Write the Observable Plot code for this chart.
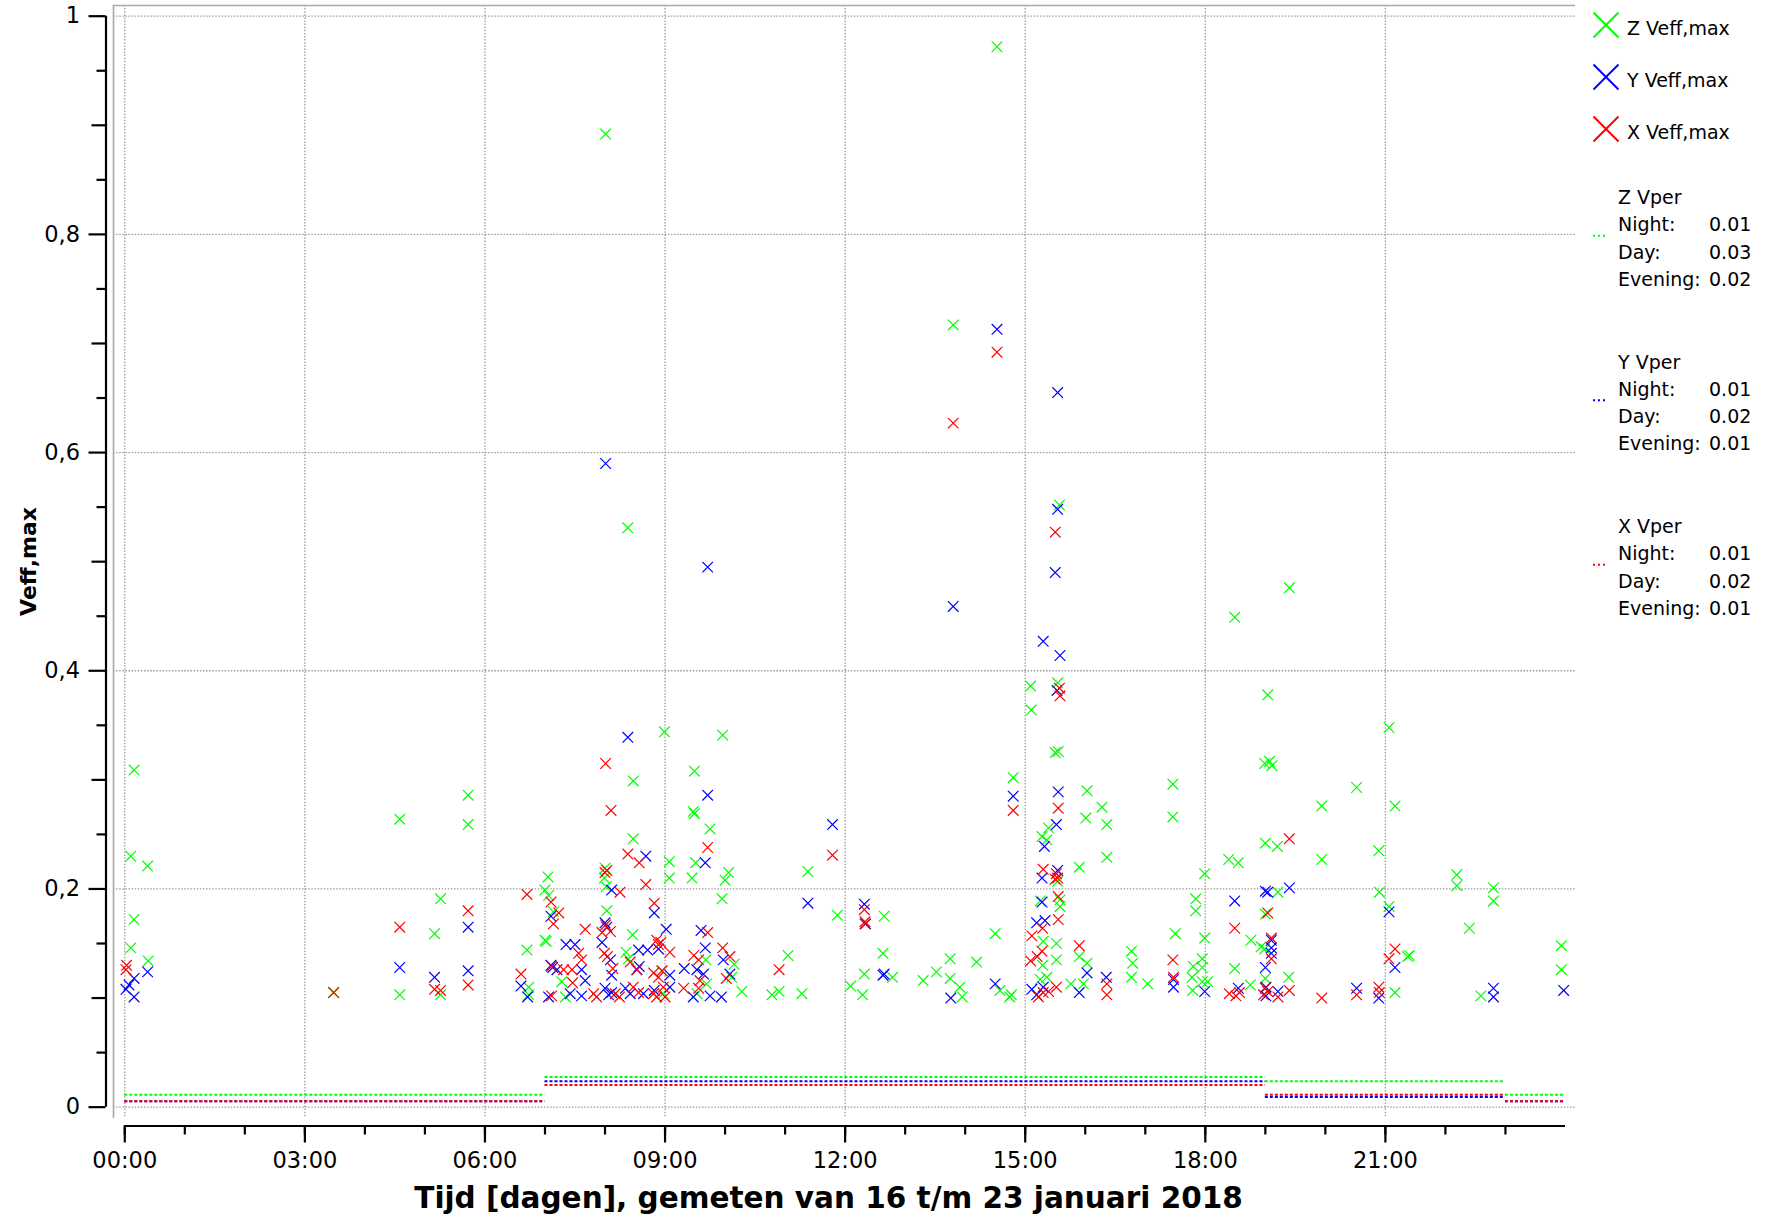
<!DOCTYPE html>
<html>
<head>
<meta charset="utf-8">
<script src="https://cdn.jsdelivr.net/npm/d3@7"></script>
<script src="https://cdn.jsdelivr.net/npm/@observablehq/plot@0.6"></script>
<style>
  html, body { margin: 0; padding: 0; background: #fff; }
  #chart { position: relative; width: 1767px; height: 1218px; font-family: "DejaVu Sans", sans-serif; }
  #legend { position: absolute; left: 1580px; top: 0; }
  #ytitle { position: absolute; left: 0; top: 0; }
</style>
</head>
<body>
<div id="chart"></div>
<script>
// Peak effective vibration velocity per direction, folded onto one day (hour of day, value)
const zPeaks = [
  [0.155,0.309],[0.10,0.230],[0.38,0.221],[0.155,0.172],[0.10,0.146],[0.39,0.134],
  [3.48,0.105],[4.58,0.264],[4.58,0.103],[5.26,0.191],[5.16,0.159],[5.26,0.103],
  [5.72,0.286],[5.72,0.259],[6.70,0.144],[6.73,0.110],[6.73,0.103],
  [9.49,0.308],[9.47,0.271],[9.49,0.269],[9.75,0.255],[8.47,0.299],[8.47,0.246],
  [9.07,0.225],[9.51,0.224],[9.07,0.210],[9.45,0.210],[10.06,0.215],[10.00,0.208],
  [9.95,0.191],[8.00,0.219],[7.99,0.210],[8.02,0.202],[7.05,0.211],[7.00,0.199],
  [7.06,0.194],[7.14,0.179],[8.03,0.180],[7.00,0.153],[7.02,0.152],[8.46,0.158],
  [8.35,0.142],[10.15,0.131],[9.68,0.135],[8.39,0.136],[9.69,0.113],[10.11,0.119],
  [7.28,0.115],[7.34,0.101],[8.97,0.104],[9.53,0.104],[10.28,0.106],[8.95,0.125],
  [8.01,0.892],[8.38,0.531],[8.99,0.344],[9.96,0.341],
  [11.38,0.216],[11.87,0.176],[12.65,0.175],[12.63,0.141],[11.05,0.139],[10.78,0.103],
  [10.90,0.106],[11.28,0.104],[12.09,0.111],[12.29,0.103],[12.32,0.122],[12.79,0.119],
  [13.30,0.116],[13.52,0.124],[13.75,0.136],[13.75,0.118],[13.91,0.110],[13.95,0.101],
  [14.19,0.133],[14.50,0.159],[14.58,0.107],[14.74,0.101],[14.77,0.103],[14.80,0.302],
  [14.53,0.972],[13.80,0.717],
  [15.57,0.552],[15.09,0.386],[15.54,0.389],[15.10,0.364],[15.50,0.325],[15.55,0.326],
  [16.03,0.290],[16.28,0.275],[16.01,0.265],[16.36,0.259],[16.36,0.229],[15.90,0.220],
  [15.39,0.256],[15.28,0.248],[15.36,0.245],[17.46,0.296],[17.46,0.266],[15.54,0.207],
  [15.25,0.189],[15.58,0.190],[15.58,0.184],[15.30,0.152],[15.52,0.150],[15.52,0.135],
  [15.29,0.130],[15.90,0.138],[16.03,0.132],[16.77,0.143],[16.79,0.132],[16.77,0.119],
  [17.04,0.113],[15.76,0.113],[15.97,0.113],[15.25,0.117],[15.36,0.119],[17.50,0.159],
  [19.40,0.476],[18.49,0.449],[19.04,0.378],[21.06,0.348],[18.99,0.315],[19.07,0.317],
  [19.11,0.313],[20.52,0.293],[19.94,0.276],[21.16,0.276],[19.00,0.242],[19.20,0.239],
  [18.39,0.227],[18.55,0.224],[19.94,0.227],[20.89,0.235],[17.99,0.214],[19.21,0.197],
  [20.90,0.197],[22.19,0.213],[22.19,0.203],[22.80,0.201],[22.80,0.189],[17.84,0.191],
  [17.84,0.180],[19.00,0.177],[21.06,0.184],[22.40,0.164],[17.99,0.155],[18.76,0.153],
  [18.93,0.147],[18.99,0.145],[21.40,0.139],[21.37,0.138],[23.93,0.148],[23.93,0.126],
  [17.95,0.136],[17.80,0.129],[17.95,0.128],[18.49,0.127],[19.00,0.118],[19.39,0.119],
  [17.95,0.115],[18.04,0.115],[17.78,0.119],[18.75,0.112],[17.79,0.107],[21.16,0.105],
  [22.59,0.102]
];

const yPeaks = [
  [0.38,0.124],[0.155,0.118],[0.07,0.112],[0.02,0.108],[0.155,0.101],[4.58,0.128],
  [5.16,0.119],[5.72,0.165],[5.72,0.125],[6.60,0.111],[6.71,0.101],
  [8.01,0.590],[9.71,0.495],[8.38,0.339],[9.71,0.286],[8.68,0.230],[9.67,0.224],
  [8.11,0.199],[8.82,0.178],[7.10,0.175],[8.00,0.169],[8.03,0.165],[7.95,0.151],
  [7.35,0.149],[7.50,0.149],[9.02,0.163],[9.60,0.162],[8.89,0.145],[8.56,0.144],
  [8.71,0.144],[8.09,0.135],[9.67,0.146],[9.97,0.135],[7.10,0.130],[7.13,0.128],
  [7.20,0.126],[7.61,0.126],[8.53,0.126],[8.57,0.129],[9.32,0.127],[8.11,0.121],
  [9.08,0.121],[9.53,0.126],[9.64,0.122],[10.08,0.122],[7.67,0.116],[7.06,0.101],
  [7.42,0.104],[7.61,0.102],[8.00,0.109],[8.06,0.103],[8.11,0.105],[8.34,0.109],
  [8.42,0.104],[8.64,0.104],[8.82,0.107],[9.08,0.110],[9.47,0.101],[9.75,0.102],
  [9.94,0.101],
  [13.80,0.459],[14.53,0.713],[11.79,0.259],[11.38,0.187],[12.32,0.186],[12.34,0.168],
  [12.63,0.121],[12.65,0.122],[13.76,0.100],[14.50,0.113],[14.80,0.285],
  [15.54,0.655],[15.54,0.548],[15.50,0.490],[15.30,0.427],[15.58,0.414],[15.53,0.382],
  [15.55,0.289],[15.52,0.259],[15.32,0.239],[15.28,0.210],[15.54,0.217],[15.28,0.188],
  [15.19,0.169],[15.33,0.171],[16.03,0.123],[17.47,0.117],[17.47,0.110],[16.35,0.119],
  [15.90,0.105],[15.11,0.108],[15.19,0.103],[15.30,0.110],
  [18.49,0.189],[19.04,0.197],[19.00,0.198],[19.40,0.201],[21.06,0.179],[19.10,0.153],
  [19.10,0.146],[19.10,0.141],[21.16,0.128],[19.00,0.128],[17.99,0.106],[18.55,0.109],
  [19.01,0.110],[19.01,0.102],[19.21,0.106],[20.52,0.109],[20.89,0.100],[22.80,0.109],
  [22.80,0.101],[23.97,0.107]
];

const xPeaks = [
  [0.03,0.130],[0.02,0.126],[3.48,0.105],[4.58,0.165],[5.16,0.108],[5.26,0.107],
  [5.72,0.180],[5.72,0.112],[6.70,0.195],[6.60,0.122],
  [8.01,0.315],[8.10,0.272],[9.71,0.238],[8.38,0.232],[8.57,0.224],[8.03,0.217],
  [8.00,0.215],[8.68,0.204],[8.25,0.197],[7.10,0.188],[7.23,0.178],[7.14,0.168],
  [8.82,0.187],[7.67,0.163],[8.01,0.167],[7.95,0.160],[8.09,0.161],[9.71,0.160],
  [8.86,0.153],[8.93,0.151],[8.89,0.149],[9.08,0.142],[7.56,0.141],[7.99,0.141],
  [8.04,0.138],[9.96,0.146],[10.08,0.138],[9.48,0.139],[9.56,0.135],[7.61,0.135],
  [8.42,0.133],[7.11,0.129],[7.31,0.126],[7.45,0.126],[8.53,0.126],[8.13,0.127],
  [8.95,0.125],[8.81,0.123],[8.89,0.119],[9.58,0.116],[10.02,0.118],[7.46,0.114],
  [7.11,0.102],[7.81,0.104],[7.86,0.101],[8.17,0.104],[8.24,0.101],[8.47,0.110],
  [8.56,0.105],[8.81,0.104],[8.86,0.101],[9.00,0.101],[9.31,0.109],[9.56,0.109],
  [8.97,0.110],
  [14.53,0.692],[13.80,0.627],[11.79,0.231],[12.32,0.181],[12.33,0.170],[12.33,0.168],
  [10.90,0.126],[14.80,0.272],
  [15.50,0.527],[15.57,0.384],[15.58,0.377],[15.55,0.274],[15.30,0.218],[15.52,0.214],
  [15.54,0.210],[15.50,0.209],[15.55,0.193],[15.55,0.172],[15.29,0.164],[15.11,0.157],
  [15.28,0.143],[15.20,0.138],[15.09,0.134],[15.90,0.148],[17.46,0.135],[17.47,0.119],
  [16.36,0.113],[16.36,0.103],[15.52,0.110],[15.22,0.101],[15.30,0.105],[15.39,0.106],
  [19.40,0.246],[19.04,0.178],[18.49,0.164],[19.10,0.155],[19.10,0.136],[21.16,0.145],
  [21.06,0.136],[18.40,0.104],[18.51,0.102],[18.57,0.105],[19.00,0.109],[19.04,0.106],
  [18.97,0.103],[19.21,0.101],[19.40,0.107],[19.94,0.100],[20.52,0.103],[20.89,0.110],
  [20.90,0.105]
];

// Vper periods: night, day, evening, night (hours of day)
const periodNames = ["Night", "Day", "Evening", "Night"];
const periodStart = [0, 7, 19, 23];
const periodEnd = [7, 19, 23, 24];
const zVper = [0.0114, 0.0276, 0.0238, 0.0114];
const yVper = [0.0053, 0.0238, 0.0092, 0.0053];
const xVper = [0.0053, 0.0202, 0.0114, 0.0053];

// Axis ticks
const hourTicks = d3.range(0, 24, 1);
const hourLabelTicks = [0, 3, 6, 9, 12, 15, 18, 21];
const yLabelTicks = [0, 0.2, 0.4, 0.6, 0.8, 1];
const yMidTicks = [0.1, 0.3, 0.5, 0.7, 0.9];
const yMinorTicks = [0.05, 0.15, 0.25, 0.35, 0.45, 0.55, 0.65, 0.75, 0.85, 0.95];

const xTitle = "Tijd [dagen], gemeten van 16 t/m 23 januari 2018";
const yTitle = "Veff,max";

const series = [
  {name: "Z", color: "#00ff00", peaks: zPeaks, vper: zVper},
  {name: "Y", color: "#0000ff", peaks: yPeaks, vper: yVper},
  {name: "X", color: "#ff0000", peaks: xPeaks, vper: xVper}
];

const W = 1767, H = 1218;
const margin = {left: 113, right: 192, top: 5, bottom: 100};
const xDomain = [-0.188, 24.167];
const yDomain = [-0.0104, 1.0098];
const gridStyle = {stroke: "#9c9c9c", strokeOpacity: 1, strokeWidth: 1.3, strokeDasharray: "1.5,1.6"};
const axisOffset = 7.5;

const hourFormat = d => String(d).padStart(2, "0") + ":00";
const commaFormat = d => String(+d.toFixed(1)).replace(".", ",");

const segments = (s) => s.vper.map((v, i) => ({start: periodStart[i], end: periodEnd[i], value: v}));

const plot = Plot.plot({
  width: W,
  height: H,
  marginLeft: margin.left,
  marginRight: margin.right,
  marginTop: margin.top,
  marginBottom: margin.bottom,
  x: {domain: xDomain},
  y: {domain: yDomain},
  style: {background: "white", fontFamily: "DejaVu Sans", overflow: "visible"},
  marks: [
    Plot.gridX({ticks: hourLabelTicks, ...gridStyle}),
    Plot.gridY({ticks: yLabelTicks, ...gridStyle}),
    // plot-area border (left and top)
    Plot.ruleX([xDomain[0]], {stroke: "#a8a8a8", strokeWidth: 1.6}),
    Plot.ruleY([yDomain[1]], {stroke: "#a8a8a8", strokeWidth: 1.6}),
    // Vper levels per period
    ...series.map(s => Plot.ruleY(segments(s), {
      x1: "start", x2: "end", y: "value",
      stroke: s.color, strokeWidth: 2, strokeDasharray: "3,2"
    })),
    // Veff,max peaks
    ...series.map(s => Plot.dot(s.peaks, {
      x: d => d[0], y: d => d[1], symbol: "times", r: 4.9,
      stroke: s.color, strokeWidth: 1.2
    })),
    // detached y axis
    Plot.ruleX([xDomain[0]], {y1: 0, y2: 1, dx: -axisOffset, stroke: "black", strokeWidth: 2.2}),
    Plot.axisY({ticks: yMinorTicks, tickSize: 9, tickFormat: () => "", dx: -axisOffset, strokeWidth: 2.2, label: null}),
    Plot.axisY({ticks: yMidTicks, tickSize: 14, tickFormat: () => "", dx: -axisOffset, strokeWidth: 2.2, label: null}),
    Plot.axisY({ticks: yLabelTicks, tickSize: 17, tickPadding: 9, tickFormat: commaFormat,
      dx: -axisOffset, strokeWidth: 2.2, fontSize: 22.5, label: null}),
    // detached x axis
    Plot.ruleY([yDomain[0]], {x1: 0, x2: 24, dy: axisOffset, stroke: "black", strokeWidth: 2.2}),
    Plot.axisX({ticks: hourTicks, tickSize: 9, tickFormat: () => "", dy: axisOffset, strokeWidth: 2.2, label: null}),
    Plot.axisX({ticks: hourLabelTicks, tickSize: 17, tickPadding: 9, tickFormat: hourFormat,
      dy: axisOffset, strokeWidth: 2.2, fontSize: 22.5, label: null}),
    // x axis title
    Plot.text([xTitle], {frameAnchor: "bottom", dy: 89, dx: -16, fontSize: 29.5, fontWeight: "bold"})
  ]
});

const chart = document.getElementById("chart");
chart.appendChild(plot);

// y axis title, rotated along the left edge
const yTitleSvg = d3.select(chart).append("svg")
  .attr("id", "ytitle")
  .attr("width", 60)
  .attr("height", H);
yTitleSvg.append("text")
  .attr("transform", `translate(28,${(margin.top + H - margin.bottom) / 2}) rotate(-90)`)
  .attr("text-anchor", "middle")
  .attr("dominant-baseline", "central")
  .style("font-family", "DejaVu Sans")
  .style("font-size", "22px")
  .style("font-weight", "bold")
  .text(yTitle);

// Legend on the right
const legend = d3.select(chart).append("svg")
  .attr("id", "legend")
  .attr("width", 187)
  .attr("height", 640)
  .style("font-family", "DejaVu Sans")
  .style("font-size", "19px");

series.forEach((s, i) => {
  const cy = 25 + i * 52;
  const g = legend.append("g").attr("transform", `translate(26,${cy})`);
  const h = 12.5;
  g.append("line").attr("x1", -h).attr("y1", -h).attr("x2", h).attr("y2", h)
    .attr("stroke", s.color).attr("stroke-width", 2);
  g.append("line").attr("x1", -h).attr("y1", h).attr("x2", h).attr("y2", -h)
    .attr("stroke", s.color).attr("stroke-width", 2);
  legend.append("text").attr("x", 47).attr("y", cy + 10)
    .text(`${s.name} Veff,max`);
});

series.forEach((s, i) => {
  const top = 204 + i * 164.5;
  const lh = 27.3;
  legend.append("text").attr("x", 38).attr("y", top).text(`${s.name} Vper`);
  [0, 1, 2].forEach(k => {
    const y = top + lh * (k + 1);
    legend.append("text").attr("x", 38).attr("y", y).text(`${periodNames[k]}:`);
    legend.append("text").attr("x", 129).attr("y", y).text(s.vper[k].toFixed(2));
  });
  legend.append("line")
    .attr("x1", 13).attr("x2", 28)
    .attr("y1", top + lh + 4.5).attr("y2", top + lh + 4.5)
    .attr("stroke", s.color).attr("stroke-width", 2).attr("stroke-dasharray", "2,3");
});
</script>
</body>
</html>
